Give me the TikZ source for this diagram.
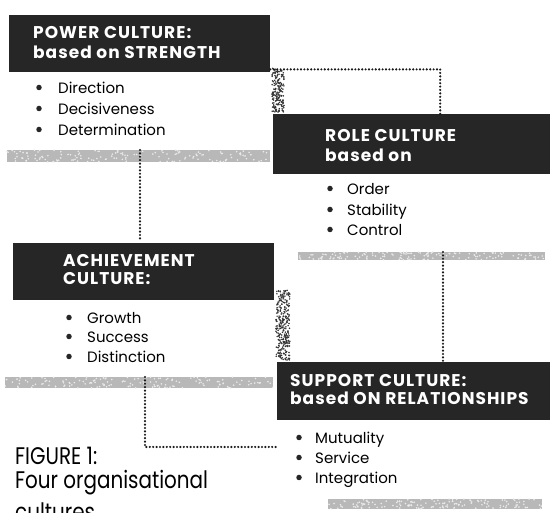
\documentclass[tikz,border=0pt]{standalone}
\usepackage{fontspec}
\setmainfont{Poppins}
\newfontfamily\hdrfont[LetterSpace=6]{Poppins}
\newfontfamily\capfont[FakeStretch=0.83]{Poppins}
\definecolor{boxdark}{HTML}{262626}
\definecolor{smudge}{HTML}{B8B8B8}
\tikzset{
  hdr/.style={fill=boxdark, draw=none, inner sep=0pt, anchor=north west},
  htext/.style={text=white, font=\hdrfont\bfseries\fontsize{17}{19}\selectfont, anchor=base west, inner sep=0pt},
  btext/.style={font=\fontsize{15}{17}\selectfont, anchor=base west, inner sep=0pt},
  captext/.style={font=\capfont\fontsize{24}{26}\selectfont, anchor=base west, inner sep=0pt},
  bul/.style={circle, fill=black!85, inner sep=0pt, minimum size=5.5pt},
  smear/.style={fill=smudge, draw=none, inner sep=0pt, anchor=north west},
  speck/.style={draw=none, inner sep=0pt, anchor=north west},
  dotline/.style={black!90, line width=2.4pt, dash pattern=on 0pt off 3.4pt, line cap=round},
}
\begin{document}
\begin{tikzpicture}[x=1pt,y=-1pt]
\useasboundingbox (0,0) rectangle (550,513);
\clip (0,0) rectangle (550,513);
\pgfmathsetseed{7}
% smudges and specks
\node[smear, minimum width=263pt, minimum height=12pt] (s1) at (7,150) {};
\node[smear, minimum width=247pt, minimum height=8pt] (s2) at (298,252) {};
\node[smear, minimum width=268pt, minimum height=11pt] (s3) at (5,377) {};
\node[smear, minimum width=214pt, minimum height=10pt] (s4) at (328,499) {};
\foreach \n/\w/\h in {s1/263/12, s2/247/8, s3/268/11, s4/214/10}{
  \foreach \i in {1,...,150}{
    \fill[white!70!smudge] ([xshift={\w*rnd*1pt}, yshift={-\h*rnd*1pt}]\n.north west) circle (0.9pt);
  }
}
\node[speck, minimum width=12pt, minimum height=44pt] (k1) at (272,68) {};
\node[speck, minimum width=14pt, minimum height=70pt] (k2) at (276,290) {};
\foreach \n/\w/\h/\m in {k1/12/44/190, k2/14/70/300}{
  \foreach \i in {1,...,\m}{
    \fill[black!80] ([xshift={\w*rnd*1pt}, yshift={-\h*rnd*1pt}]\n.north west) circle (0.85pt);
  }
}
% boxes
\node[hdr, minimum width=261pt, minimum height=57pt] (power) at (9,15) {};
\node[hdr, minimum width=277pt, minimum height=60pt] (role) at (273,114) {};
\node[hdr, minimum width=261pt, minimum height=57pt] (ach) at (13,243) {};
\node[hdr, minimum width=273pt, minimum height=58pt] (sup) at (277,362) {};
% header texts
\node[htext] (p1) at (33,39) {POWER CULTURE:};
\node[htext] (p2) at (33,59) {based on STRENGTH};
\node[htext] (r1) at (325,142) {ROLE CULTURE};
\node[htext] (r2) at (325,162) {based on};
\node[htext] (a1) at (63,267) {ACHIEVEMENT};
\node[htext] (a2) at (63,285) {CULTURE:};
\node[htext] (u1) at (290,387) {SUPPORT CULTURE:};
\node[htext] (u2) at (290,405) {based ON RELATIONSHIPS};
% bullets
\node[bul] (pb1) at (39,87.5) {}; \node[btext] (pt1) at (58,94) {Direction};
\node[bul] (pb2) at (39,108.5) {}; \node[btext] (pt2) at (58,115) {Decisiveness};
\node[bul] (pb3) at (39,129.5) {}; \node[btext] (pt3) at (58,136) {Determination};
\node[bul] (rb1) at (330,188.5) {}; \node[btext] (rt1) at (347,195) {Order};
\node[bul] (rb2) at (330,209.5) {}; \node[btext] (rt2) at (347,216) {Stability};
\node[bul] (rb3) at (330,229.5) {}; \node[btext] (rt3) at (347,236) {Control};
\node[bul] (ab1) at (69,317.5) {}; \node[btext] (at1) at (87,324) {Growth};
\node[bul] (ab2) at (69,336.5) {}; \node[btext] (at2) at (87,343) {Success};
\node[bul] (ab3) at (69,356.5) {}; \node[btext] (at3) at (87,363) {Distinction};
\node[bul] (ub1) at (299,437.5) {}; \node[btext] (ut1) at (315,444) {Mutuality};
\node[bul] (ub2) at (299,457.5) {}; \node[btext] (ut2) at (315,464) {Service};
\node[bul] (ub3) at (299,477.5) {}; \node[btext] (ut3) at (315,484) {Integration};
% caption
\node[captext] (c1) at (15,465) {FIGURE 1:};
\node[captext] (c2) at (15,489) {Four organisational};
\node[captext] (c3) at (15,521) {cultures};
% connectors
\coordinate (dend) at (278,447);
\draw[dotline] ([yshift=3pt]power.south east) -| ([xshift=28.5pt]role.north);
\draw[dotline] (s1.north -| 140,0) -- ([yshift=4pt]ach.north -| 140,0);
\draw[dotline] (s2.north -| 443,0) -- (sup.north -| 443,0);
\draw[dotline] (s3.north -| 145,0) |- (dend);
\end{tikzpicture}
\end{document}
